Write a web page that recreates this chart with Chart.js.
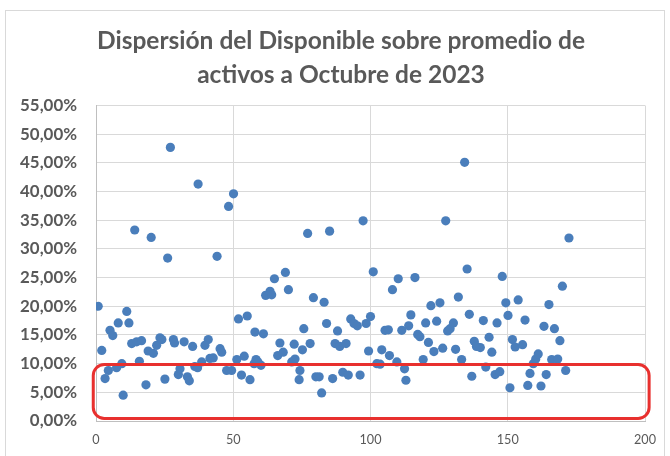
<!DOCTYPE html>
<html>
<head>
<meta charset="utf-8">
<script src="https://cdn.jsdelivr.net/npm/chart.js@4/dist/chart.umd.min.js"></script>
<style>
  html, body { margin: 0; padding: 0; background: #ffffff; }
  #wrap { width: 670px; height: 456px; }
</style>
</head>
<body>
<div id="wrap"><canvas id="c" width="670" height="456"></canvas></div>
<script>
const titleLines = ["Dispersión del Disponible sobre promedio de", "activos a Octubre de 2023"];

const xValues = [0.8,2.1,3.3,4.5,5.1,6.1,7.5,8.1,9.4,9.9,11.2,12.0,13.0,14.1,14.8,15.8,16.6,18.2,19.0,20.1,20.9,22.1,23.3,24.0,25.1,26.1,27.1,28.2,28.6,30.0,30.6,32.1,33.3,34.0,35.2,36.0,37.0,37.2,38.5,39.7,40.9,41.5,42.7,44.1,45.2,45.8,47.6,48.3,49.4,50.1,51.3,51.9,53.0,54.0,55.1,56.1,57.6,57.9,58.3,59.0,60.1,61.0,61.8,63.4,64.0,65.0,66.2,67.0,68.2,69.0,70.1,71.3,72.2,72.5,74.0,74.3,75.2,75.7,77.1,78.0,79.2,80.1,81.3,82.2,83.1,84.0,85.1,86.2,87.1,88.0,88.8,89.9,91.1,91.9,92.8,94.0,95.2,96.2,97.3,98.4,99.3,100.0,101.0,102.3,103.5,104.1,105.3,106.5,106.9,108.0,109.6,110.1,111.4,112.4,112.9,113.9,114.7,116.2,117.2,118.0,119.2,120.1,121.1,122.0,123.1,124.1,125.3,126.3,127.4,128.1,129.0,130.2,131.0,132.0,133.2,134.3,135.2,136.0,136.9,137.8,138.6,140.0,141.1,142.0,143.2,144.2,145.4,146.1,147.1,148.0,149.3,150.1,150.8,151.7,152.7,153.8,155.4,156.3,157.3,158.1,159.3,160.2,161.1,162.1,163.2,164.0,165.0,166.0,167.0,168.2,169.0,169.9,171.1,172.3];

const yValues = [20.0,12.3,7.4,8.8,15.8,14.9,9.3,17.1,10.0,4.5,19.1,17.1,13.5,33.3,13.8,10.4,14.0,6.3,12.2,32.0,11.8,13.2,14.5,14.2,7.3,28.4,47.7,14.2,13.6,8.1,9.1,13.8,7.7,7.0,13.0,9.5,9.3,41.3,10.3,13.2,14.2,10.9,11.0,28.7,12.6,12.0,8.8,37.4,8.8,39.6,10.7,17.8,8.0,11.3,18.3,7.2,10.0,15.5,10.7,10.3,9.7,15.2,21.9,22.6,22.0,24.8,11.4,13.6,12.0,25.9,22.9,10.3,13.4,10.8,7.2,8.8,12.4,16.1,32.7,13.5,21.5,7.7,7.7,4.9,20.7,17.0,33.1,7.4,13.5,15.7,13.0,8.5,13.5,8.0,17.8,17.0,16.6,8.0,34.9,17.0,12.2,18.2,26.0,10.0,9.9,12.4,15.8,15.9,11.4,22.9,10.3,24.8,15.8,9.1,7.1,16.6,18.5,25.0,15.1,14.7,10.7,17.1,13.7,20.1,12.1,17.4,20.6,12.7,34.9,15.7,16.1,17.1,12.5,21.6,10.7,45.1,26.5,18.6,7.8,13.9,13.0,12.8,17.5,9.4,14.6,12.0,8.1,17.1,8.6,25.2,20.6,18.4,5.8,14.2,12.9,21.1,13.3,17.6,6.2,8.3,10.0,10.8,11.7,6.1,16.5,8.1,20.3,10.7,16.1,10.8,14.0,23.5,8.8,31.9];

const xTickStep = 50;
const yTickStep = 5;
const highlightBox = { x0: -1, x1: 201.5, y0: 0.45, y1: 9.85 };

const FAMILY = 'Lato';
function fitSize(text, weight, target) {
  const m = document.createElement('canvas').getContext('2d');
  m.font = weight + ' 100px ' + FAMILY;
  return 100 * target / m.measureText(text).width;
}
const titleSize = fitSize(titleLines[0], 'bold', 488);
const yTickSize = fitSize('55,00%', 'bold', 57);
const xTickSize = fitSize('200', 'normal', 22);

const points = xValues.map((x, i) => ({ x: x, y: yValues[i] }));

const framePlugin = {
  id: 'frame',
  beforeDraw(chart) {
    const ctx = chart.ctx;
    ctx.save();
    ctx.fillStyle = '#ffffff';
    ctx.fillRect(0, 0, chart.width, chart.height);
    ctx.strokeStyle = '#d9d9d9';
    ctx.lineWidth = 1;
    ctx.strokeRect(5.5, 10.5, 659, 470);
    ctx.restore();
  }
};

const titlePlugin = {
  id: 'centredTitle',
  afterDraw(chart) {
    const ctx = chart.ctx;
    ctx.save();
    ctx.fillStyle = '#595959';
    ctx.font = 'bold ' + titleSize + 'px ' + FAMILY;
    ctx.textAlign = 'center';
    ctx.textBaseline = 'middle';
    ctx.fillText(titleLines[0], 341, 41);
    ctx.fillText(titleLines[1], 341, 75);
    ctx.restore();
  }
};

const boxPlugin = {
  id: 'highlightBox',
  afterDatasetsDraw(chart) {
    const xs = chart.scales.x, ys = chart.scales.y;
    const left = xs.getPixelForValue(highlightBox.x0);
    const right = xs.getPixelForValue(highlightBox.x1);
    const top = ys.getPixelForValue(highlightBox.y1);
    const bottom = ys.getPixelForValue(highlightBox.y0);
    const ctx = chart.ctx;
    ctx.save();
    ctx.strokeStyle = '#e8302e';
    ctx.lineWidth = 3;
    ctx.beginPath();
    ctx.roundRect(left, top, right - left, bottom - top, 11);
    ctx.stroke();
    ctx.restore();
  }
};

new Chart(document.getElementById('c'), {
  type: 'scatter',
  data: {
    datasets: [{
      data: points,
      backgroundColor: '#4a7ebb',
      borderColor: '#4a7ebb',
      borderWidth: 0,
      pointRadius: 4.6,
      pointHoverRadius: 4.6
    }]
  },
  options: {
    responsive: false,
    animation: false,
    devicePixelRatio: 1,
    layout: { padding: { left: 0, right: 25, top: 105.5, bottom: 0 } },
    plugins: {
      legend: { display: false },
      tooltip: { enabled: false },
      title: { display: false }
    },
    scales: {
      x: {
        type: 'linear',
        min: 0,
        max: 200,
        ticks: {
          stepSize: xTickStep,
          color: '#595959',
          font: { family: FAMILY, size: xTickSize },
          padding: 11,
          maxRotation: 0
        },
        grid: { color: '#d9d9d9', drawTicks: false },
        border: { color: '#bfbfbf' },
        afterFit(scale) { scale.height = 35; }
      },
      y: {
        min: 0,
        max: 55,
        ticks: {
          stepSize: yTickStep,
          color: '#595959',
          font: { family: FAMILY, weight: 'bold', size: yTickSize },
          padding: 19,
          callback: v => v.toFixed(2).replace('.', ',') + '%'
        },
        grid: { color: '#d9d9d9', drawTicks: false },
        border: { color: '#bfbfbf' },
        afterFit(scale) { scale.width = 96; }
      }
    }
  },
  plugins: [framePlugin, boxPlugin, titlePlugin]
});
</script>
</body>
</html>
